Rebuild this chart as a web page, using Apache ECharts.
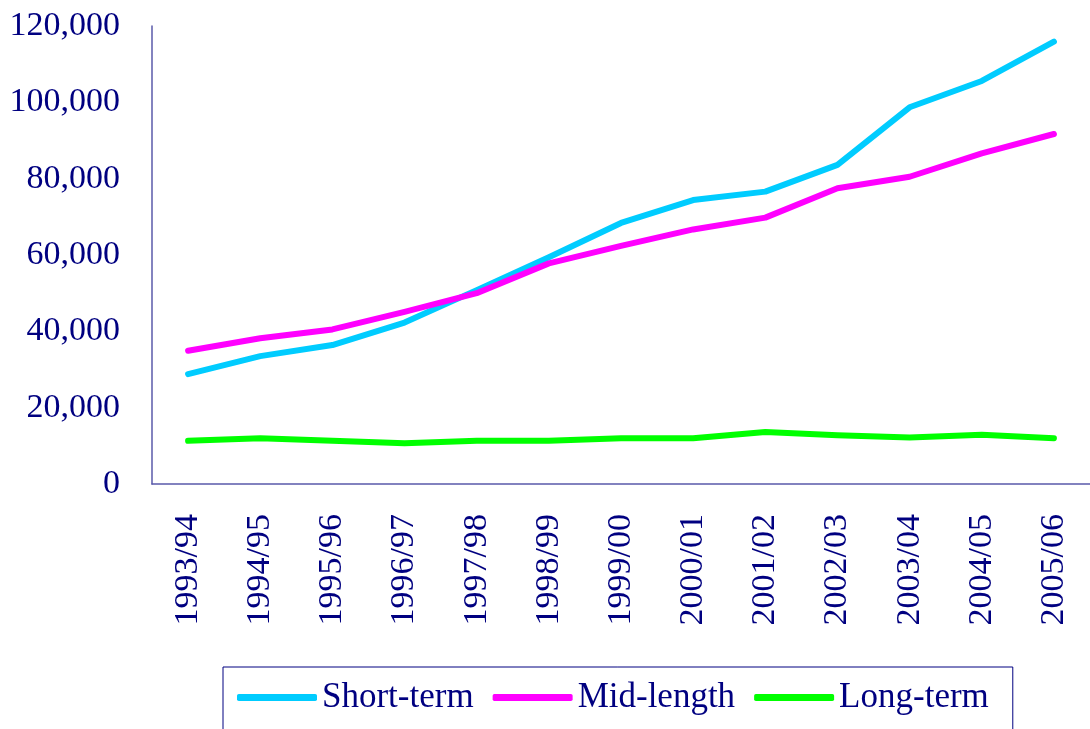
<!DOCTYPE html>
<html>
<head>
<meta charset="utf-8">
<script src="https://cdn.jsdelivr.net/npm/echarts@6/dist/echarts.min.js"></script>
<style>
    html, body { margin: 0; padding: 0; background: #fff; }
    #main { width: 1090px; height: 729px; }
</style>
</head>
<body>
<div id="main"></div>
<script>
var years = ['1993/94', '1994/95', '1995/96', '1996/97', '1997/98', '1998/99', '1999/00',
    '2000/01', '2001/02', '2002/03', '2003/04', '2004/05', '2005/06'];
var shortTerm = [28800, 33500, 36400, 42300, 50800, 59400, 68400, 74400, 76600, 83600, 98700, 105600, 115900];
var midLength = [34900, 38200, 40500, 45100, 50000, 57800, 62400, 66700, 69800, 77500, 80500, 86600, 91700];
var longTerm = [11300, 12000, 11300, 10700, 11300, 11300, 12000, 12000, 13600, 12800, 12200, 12900, 12000];
var seriesNames = ['Short-term', 'Mid-length', 'Long-term'];
var lineColors = ['#00ccff', '#ff00ff', '#00ff00'];

var navy = '#000080';
var fontFam = '"Liberation Serif", serif';

var myChart = echarts.init(document.getElementById('main'));

function makeLine(name, data, color) {
    return {
        name: name,
        type: 'line',
        data: data,
        showSymbol: false,
        symbol: 'none',
        lineStyle: {
            color: color,
            width: 6,
            cap: 'round',
            join: 'round'
        },
        itemStyle: { color: color }
    };
}

var option = {
    backgroundColor: '#ffffff',
    animation: false,
    grid: {
        left: 152,
        top: 26,
        right: -12,
        bottom: 245
    },
    legend: {
        data: seriesNames,
        left: 223,
        top: 667,
        padding: [13, 24, 40, 14],
        itemGap: 19,
        itemWidth: 80,
        itemHeight: 7,
        icon: 'roundRect',
        borderColor: navy,
        borderWidth: 1,
        textStyle: {
            color: navy,
            fontFamily: fontFam,
            fontSize: 35
        }
    },
    xAxis: {
        type: 'category',
        data: years,
        boundaryGap: true,
        axisLine: {
            lineStyle: { color: '#5a5aaa', width: 1.5 }
        },
        axisTick: { show: false },
        axisLabel: {
            rotate: 90,
            margin: 30,
            color: navy,
            fontFamily: fontFam,
            fontSize: 34,
            interval: 0
        },
        splitLine: { show: false }
    },
    yAxis: {
        type: 'value',
        min: 0,
        max: 120000,
        interval: 20000,
        axisLine: {
            show: true,
            lineStyle: { color: '#5a5aaa', width: 1.5 }
        },
        axisTick: { show: false },
        splitLine: { show: false },
        axisLabel: {
            margin: 32,
            color: navy,
            fontFamily: fontFam,
            fontSize: 34,
            formatter: function (v) {
                return v.toString().replace(/\B(?=(\d{3})+(?!\d))/g, ',');
            }
        }
    },
    series: [
        makeLine(seriesNames[0], shortTerm, lineColors[0]),
        makeLine(seriesNames[1], midLength, lineColors[1]),
        makeLine(seriesNames[2], longTerm, lineColors[2])
    ]
};

myChart.setOption(option);
</script>
</body>
</html>
